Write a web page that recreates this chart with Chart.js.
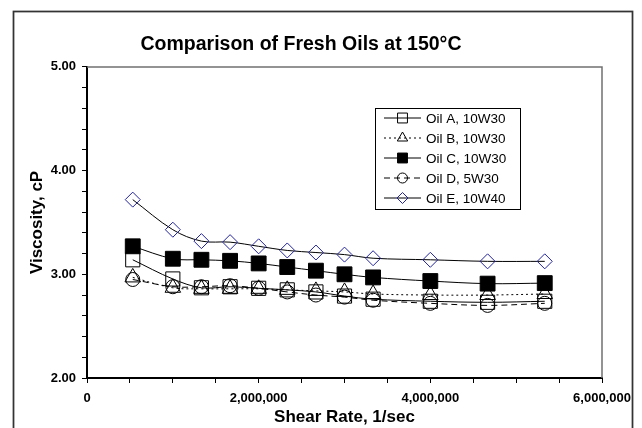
<!DOCTYPE html>
<html><head><meta charset="utf-8">
<script src="https://cdn.jsdelivr.net/npm/chart.js@4.4.1/dist/chart.umd.min.js"></script>
<style>html,body{margin:0;padding:0;background:#fff}canvas{display:block}</style>
</head><body>
<canvas id="c" width="642" height="428"></canvas>
<script>
// ---- data ----
const shearRate = [533000, 1000000, 1333000, 1667000, 2000000, 2333000, 2667000, 3000000, 3333000, 4000000, 4667000, 5333000];
const oilA = [3.14, 2.955, 2.87, 2.88, 2.865, 2.85, 2.83, 2.79, 2.76, 2.74, 2.73, 2.74];
const oilB = [2.97, 2.87, 2.86, 2.86, 2.86, 2.85, 2.84, 2.83, 2.81, 2.80, 2.80, 2.81];
const oilC = [3.27, 3.15, 3.14, 3.13, 3.105, 3.07, 3.035, 3.00, 2.97, 2.935, 2.91, 2.915];
const oilD = [2.95, 2.88, 2.88, 2.89, 2.865, 2.83, 2.80, 2.78, 2.75, 2.72, 2.70, 2.72];
const oilE = [3.72, 3.43, 3.32, 3.31, 3.27, 3.23, 3.21, 3.19, 3.155, 3.14, 3.125, 3.125];
const seriesLabels = ['Oil A, 10W30', 'Oil B, 10W30', 'Oil C, 10W30', 'Oil D, 5W30', 'Oil E, 10W40'];
const xTickLabels = ['0', '2,000,000', '4,000,000', '6,000,000'];
const yTickLabels = ['2.00', '3.00', '4.00', '5.00'];
const chartTitle = 'Comparison of Fresh Oils at 150°C';
const xTitle = 'Shear Rate, 1/sec';
const yTitle = 'Viscosity, cP';

const FONT = "'Liberation Sans', Arial, Helvetica, sans-serif";
const toPts = arr => arr.map((v, i) => ({x: shearRate[i], y: v}));

const styles = [
  {pointStyle: 'rect', radius: 10, fill: 'rgba(0,0,0,0)', stroke: '#000', dash: [], lr: 7},
  {pointStyle: 'triangle', radius: 9, fill: 'rgba(0,0,0,0)', stroke: '#000', dash: [2, 3], lr: 6},
  {pointStyle: 'rect', radius: 10.5, fill: '#000', stroke: '#000', dash: [], lr: 7},
  {pointStyle: 'circle', radius: 7, fill: 'rgba(0,0,0,0)', stroke: '#000', dash: [6, 4], lr: 5},
  {pointStyle: 'rectRot', radius: 7.5, fill: 'rgba(0,0,0,0)', stroke: '#22229a', dash: [], lr: 5.5}
];
const seriesData = [oilA, oilB, oilC, oilD, oilE];

const datasets = seriesData.map((arr, i) => ({
  label: seriesLabels[i],
  data: toPts(arr),
  borderColor: '#000',
  borderWidth: 1,
  borderDash: styles[i].dash,
  tension: 0.35,
  fill: false,
  pointStyle: styles[i].pointStyle,
  pointRadius: styles[i].radius,
  pointHoverRadius: styles[i].radius,
  pointBackgroundColor: styles[i].fill,
  pointBorderColor: styles[i].stroke,
  pointBorderWidth: 1
}));

const framePlugin = {
  id: 'frame',
  beforeDatasetsDraw(chart) {
    const a = chart.chartArea, ctx = chart.ctx;
    ctx.save();
    ctx.strokeStyle = '#707070';
    ctx.lineWidth = 1.5;
    ctx.beginPath();
    ctx.moveTo(a.left, a.top);
    ctx.lineTo(a.right, a.top);
    ctx.lineTo(a.right, a.bottom);
    ctx.stroke();
    ctx.restore();
  },
  afterDraw(chart) {
    const ctx = chart.ctx;
    ctx.save();
    // outer chart frame
    ctx.strokeStyle = '#333';
    ctx.lineWidth = 1.75;
    ctx.strokeRect(13.5, 11.5, 619, 430);
    // legend
    const lx = 375.5, ly = 108.5, lw = 145, lh = 101;
    ctx.fillStyle = '#fff';
    ctx.fillRect(lx, ly, lw, lh);
    ctx.strokeStyle = '#000';
    ctx.lineWidth = 1;
    ctx.strokeRect(lx, ly, lw, lh);
    seriesLabels.forEach((lab, i) => {
      const y = 118 + i * 20;
      const st = styles[i];
      ctx.save();
      ctx.strokeStyle = '#000';
      ctx.lineWidth = 1;
      ctx.setLineDash(st.dash);
      ctx.beginPath();
      ctx.moveTo(384, y);
      ctx.lineTo(421, y);
      ctx.stroke();
      ctx.restore();
      ctx.save();
      ctx.fillStyle = st.fill;
      ctx.strokeStyle = st.stroke;
      ctx.lineWidth = 1;
      Chart.helpers.drawPoint(ctx, {pointStyle: st.pointStyle, radius: st.lr, rotation: 0, borderWidth: 1}, 402.5, y);
      ctx.restore();
      ctx.fillStyle = '#000';
      ctx.font = '13.5px ' + FONT;
      ctx.textBaseline = 'middle';
      ctx.textAlign = 'left';
      ctx.fillText(lab, 426, y + 1);
    });
    ctx.restore();
  }
};

new Chart(document.getElementById('c'), {
  type: 'line',
  data: {datasets},
  plugins: [framePlugin],
  options: {
    responsive: false,
    animation: false,
    devicePixelRatio: 1,
    layout: {padding: {left: 0, right: 40, top: 0, bottom: 0}},
    plugins: {
      legend: {display: false},
      tooltip: {enabled: false},
      title: {
        display: true,
        text: chartTitle,
        color: '#000',
        font: {family: FONT, size: 19.5, weight: 'bold'},
        padding: {top: 32.5, bottom: 11}
      }
    },
    scales: {
      x: {
        type: 'linear',
        min: 0, max: 6000000,
        afterFit(s) { s.height = 50; },
        ticks: {
          stepSize: 500000,
          autoSkip: false,
          maxRotation: 0,
          padding: 8,
          color: '#000',
          font: {family: FONT, size: 13, weight: 'bold'},
          callback(v) {
            const k = v / 2000000;
            return Math.abs(k - Math.round(k)) < 1e-9 ? xTickLabels[Math.round(k)] : '';
          }
        },
        grid: {drawOnChartArea: false, drawTicks: true, tickLength: 5, color: '#000', lineWidth: 1},
        border: {display: true, color: '#000', width: 2},
        title: {display: true, text: xTitle, color: '#000', font: {family: FONT, size: 17, weight: 'bold'}, padding: {top: 0, bottom: 0}}
      },
      y: {
        min: 2, max: 5,
        afterFit(s) { s.width = 87; },
        ticks: {
          stepSize: 0.2,
          autoSkip: false,
          padding: 6,
          color: '#000',
          font: {family: FONT, size: 13, weight: 'bold'},
          callback(v) {
            return Math.abs(v - Math.round(v)) < 1e-6 ? yTickLabels[Math.round(v) - 2] : '';
          }
        },
        grid: {drawOnChartArea: false, drawTicks: true, tickLength: 5, color: '#000', lineWidth: 1},
        border: {display: true, color: '#000', width: 2},
        title: {display: true, text: yTitle, color: '#000', font: {family: FONT, size: 17, weight: 'bold'}, padding: {top: 27, bottom: 0}}
      }
    }
  }
});
</script>
</body></html>
